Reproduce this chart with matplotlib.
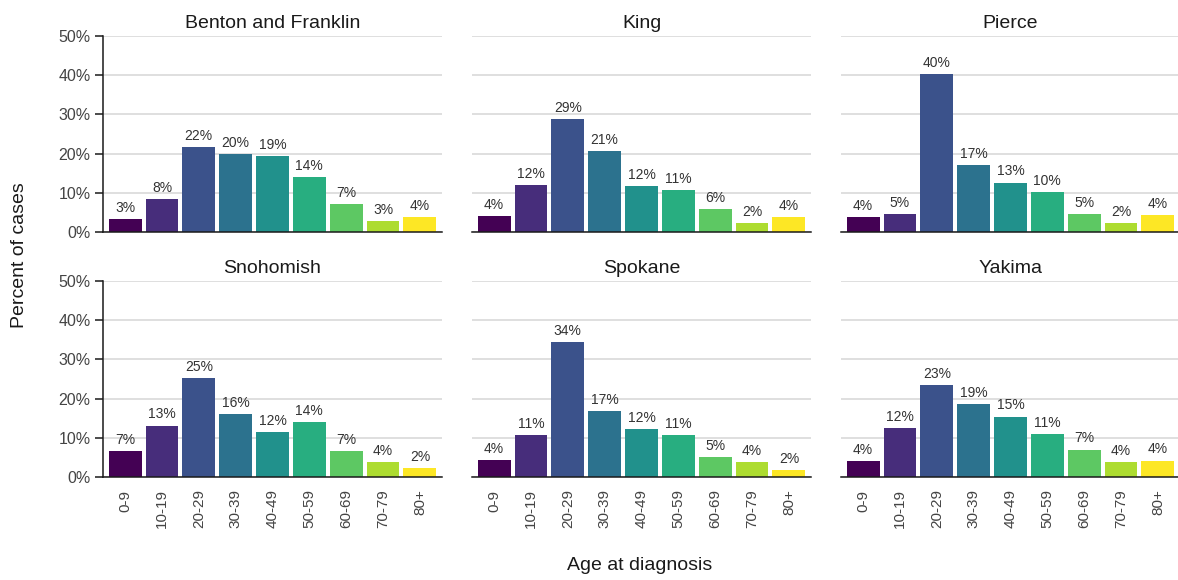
import matplotlib
matplotlib.use("Agg")
import matplotlib.pyplot as plt
import numpy as np

plt.rcParams['font.family'] = ['Liberation Sans', 'DejaVu Sans']

age_groups = ["0-9", "10-19", "20-29", "30-39", "40-49", "50-59", "60-69", "70-79", "80+"]
counties = ["Benton and Franklin", "King", "Pierce", "Snohomish", "Spokane", "Yakima"]

benton_franklin = [3.3, 8.4, 21.7, 19.9, 19.4, 14.0, 7.1, 2.8, 3.8]
king = [4.1, 12.0, 28.8, 20.6, 11.8, 10.7, 5.9, 2.2, 3.8]
pierce = [3.8, 4.6, 40.3, 17.0, 12.6, 10.1, 4.6, 2.2, 4.3]
snohomish = [6.6, 13.1, 25.3, 16.0, 11.5, 14.0, 6.6, 3.8, 2.3]
spokane = [4.3, 10.7, 34.5, 16.8, 12.2, 10.6, 5.1, 3.8, 1.7]
yakima = [4.0, 12.4, 23.4, 18.6, 15.4, 10.95, 7.0, 3.8, 4.2]

series = [benton_franklin, king, pierce, snohomish, spokane, yakima]

colors = ["#440154", "#472D7B", "#3B528B", "#2C728E", "#21918C",
          "#28AE80", "#5DC863", "#ADDC30", "#FDE725"]

W, H = 1178, 580
fig = plt.figure(figsize=(W / 100, H / 100), dpi=100)

lefts = [103, 472, 841]
tops_zero = [232, 477]
aw, ah = 339, 196

for i, (name, vals) in enumerate(zip(counties, series)):
    r, c = divmod(i, 3)
    x0 = lefts[c]
    y0 = tops_zero[r]
    ax = fig.add_axes([x0 / W, (H - y0) / H, aw / W, ah / H])
    x = np.arange(len(age_groups))
    ax.bar(x, vals, width=0.89, color=colors, zorder=3)
    for xi, v in zip(x, vals):
        ax.annotate(f"{round(v):.0f}%", (xi, v), xytext=(0, 3), textcoords="offset points",
                    ha="center", va="bottom", fontsize=10, color="#333333", zorder=4)
    ax.set_xlim(-0.6, 8.6)
    ax.set_ylim(0, 50)
    ax.set_yticks([0, 10, 20, 30, 40, 50])
    ax.yaxis.grid(True, color="#d9d9d9", linewidth=1.2, zorder=0)
    ax.set_axisbelow(True)
    for s in ["top", "right"]:
        ax.spines[s].set_visible(False)
    ax.spines["bottom"].set_color("#1a1a1a")
    ax.spines["bottom"].set_linewidth(1.1)
    ax.spines["bottom"].set_zorder(5)
    if c == 0:
        ax.spines["left"].set_color("#1a1a1a")
        ax.spines["left"].set_linewidth(1.1)
        ax.set_yticklabels([f"{t}%" for t in [0, 10, 20, 30, 40, 50]])
        ax.tick_params(axis="y", length=6, width=1.1, color="#1a1a1a", pad=3,
                       labelsize=11.5, labelcolor="#444444")
    else:
        ax.spines["left"].set_visible(False)
        ax.tick_params(axis="y", length=0, labelleft=False)
    ax.set_xticks(x)
    if r == 1:
        ax.set_xticklabels(age_groups, rotation=90, fontsize=11, color="#444444")
        ax.tick_params(axis="x", length=0, pad=9)
    else:
        ax.tick_params(axis="x", length=0, labelbottom=False)
    ax.set_title(name, fontsize=14, color="#1a1a1a", pad=6)

fig.text(20 / W, 1 - 255 / H, "Percent of cases", rotation=90, ha="center", va="center",
         fontsize=14, color="#1a1a1a")
fig.text(640 / W, 1 - 565 / H, "Age at diagnosis", ha="center", va="center",
         fontsize=14, color="#1a1a1a")

fig.savefig("out.png", dpi=100, facecolor="white")
